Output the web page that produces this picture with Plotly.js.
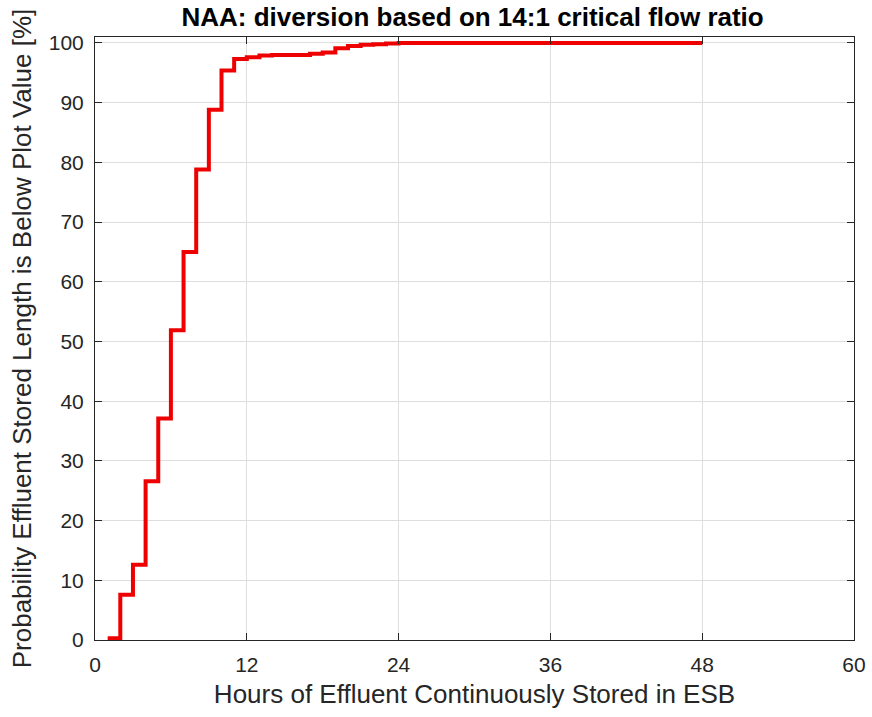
<!DOCTYPE html>
<html>
<head>
<meta charset="utf-8">
<script src="https://cdn.plot.ly/plotly-3.0.1.min.js"></script>
<style>html,body{margin:0;padding:0;background:#fff;}#chart{width:872px;height:717px;}</style>
</head>
<body>
<div id="chart"></div>
<script>
const hours = [1,2,3,4,5,6,7,8,9,10,11,12,13,14,15,16,17,18,19,20,21,22,23,24,
  25,26,27,28,29,30,31,32,33,34,35,36,37,38,39,40,41,42,43,44,45,46,47,48];
const probability = [0.3,7.6,12.6,26.6,37.1,51.9,65.0,78.8,88.8,95.4,97.3,97.6,97.9,98.0,98.0,98.0,98.2,98.4,99.1,99.5,99.7,99.8,99.9,100,
  100,100,100,100,100,100,100,100,100,100,100,100,100,100,100,100,100,100,100,100,100,100,100,100];
const xTicks = [0,12,24,36,48,60];
const yTicks = [0,10,20,30,40,50,60,70,80,90,100];

const textColor = '#262626';
const trace = {
  x: hours, y: probability, type: 'scatter', mode: 'lines',
  line: {shape: 'hv', color: '#ee0000', width: 4},
  hoverinfo: 'x+y'
};
const axisCommon = {
  showline: true, linecolor: textColor, linewidth: 1, mirror: 'allticks',
  ticks: 'inside', ticklen: 7, tickcolor: textColor, tickwidth: 1,
  showgrid: true, gridcolor: '#dedede', gridwidth: 1, zeroline: false,
  tickfont: {family: 'Liberation Sans, Arial, sans-serif', size: 21, color: textColor}
};
const layout = {
  width: 872, height: 717,
  margin: {l: 95, r: 18, t: 37, b: 77},
  paper_bgcolor: '#fff', plot_bgcolor: '#fff',
  showlegend: false,
  title: {text: '<b>NAA: diversion based on 14:1 critical flow ratio</b>', x: 0.542, xanchor: 'center', y: 0.976, yanchor: 'middle',
    font: {family: 'Liberation Sans, Arial, sans-serif', size: 26, color: '#000'}},
  xaxis: Object.assign({}, axisCommon, {range: [0, 60], tickvals: xTicks, ticktext: xTicks.map(String), ticklabelstandoff: 6,
    title: {text: 'Hours of Effluent Continuously Stored in ESB', standoff: 9, font: {family: 'Liberation Sans, Arial, sans-serif', size: 26, color: textColor}}}),
  yaxis: Object.assign({}, axisCommon, {range: [0, 101], tickvals: yTicks, ticktext: yTicks.map(String), ticklabelstandoff: 6,
    title: {text: 'Probability Effluent Stored Length is Below Plot Value [%]', standoff: 9, font: {family: 'Liberation Sans, Arial, sans-serif', size: 26, color: textColor}}})
};
Plotly.newPlot('chart', [trace], layout, {displayModeBar: false, staticPlot: true});
</script>
</body>
</html>
